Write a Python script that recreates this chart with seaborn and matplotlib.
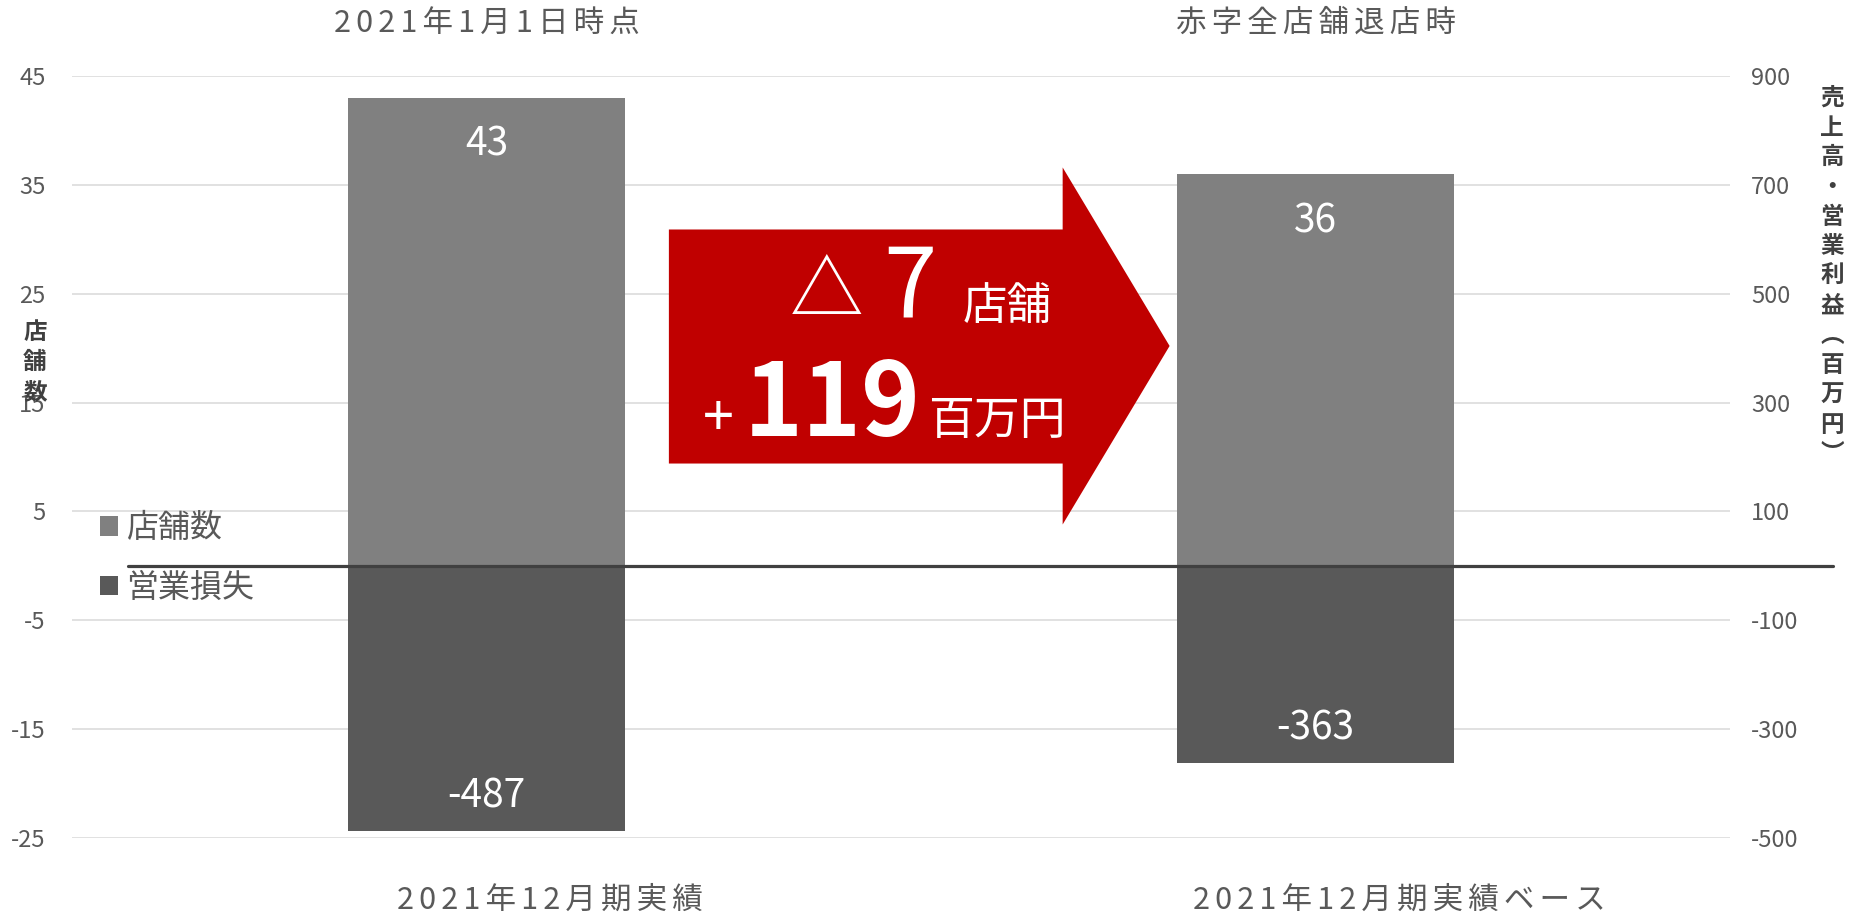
import matplotlib
matplotlib.use("Agg")
import matplotlib.pyplot as plt
import matplotlib.transforms as mtransforms
from matplotlib.patches import Polygon, Patch
import seaborn as sns
import pandas as pd

# ---------------- data ----------------
categories = ["2021年12月期実績", "2021年12月期実績ベース"]
top_titles = ["2021年1月1日時点", "赤字全店舗退店時"]
store_counts = [43, 36]
operating_loss = [-487, -363]
series_names = ["店舗数", "営業損失"]
left_ticks = [-25, -15, -5, 5, 15, 25, 35, 45]
right_ticks = [-500, -300, -100, 100, 300, 500, 700, 900]
left_label = "店舗数"
right_label = "売上高・営業利益︵百万円︶"
store_change_text = "7"
profit_change_text = "119"

# ---------------- style ----------------
sns.set_style("white")
plt.rcParams['font.family'] = ['Noto Sans CJK JP', 'DejaVu Sans']
plt.rcParams['axes.unicode_minus'] = False

C_STORE = "#808080"
C_LOSS = "#595959"
C_TEXT = "#595959"
C_GRID = "#D9D9D9"
C_RED = "#C00000"


def spaced(s):
    # small letter spacing, as in the original text boxes
    return "\u2006".join(s)


W, H = 1863, 915
fig = plt.figure(figsize=(W / 100, H / 100), dpi=100)
ax_left, ax_right, ax_top, ax_bot = 72, 1730, 76, 838
ax = fig.add_axes([ax_left / W, 1 - ax_bot / H, (ax_right - ax_left) / W, (ax_bot - ax_top) / H])
ax2 = ax.twinx()

df = pd.DataFrame({"cat": categories, "stores": store_counts, "loss": operating_loss})
sns.barplot(data=df, x="cat", y="stores", ax=ax, color=C_STORE, width=0.333,
            saturation=1, zorder=2, edgecolor="none")
sns.barplot(data=df, x="cat", y="loss", ax=ax2, color=C_LOSS, width=0.333,
            saturation=1, zorder=2, edgecolor="none")

for a in (ax, ax2):
    a.set_xlim(-0.5, 1.5)
    a.set_xlabel("")
    a.set_ylabel("")
    a.tick_params(axis="x", length=0, labelbottom=False)
    for s in a.spines.values():
        s.set_visible(False)

ax.set_ylim(-25, 45)
ax.set_yticks(left_ticks)
ax.tick_params(axis="y", length=0, pad=19, labelsize=17, labelcolor=C_TEXT)
ax.grid(axis="y", color=C_GRID, lw=1.1)
ax.grid(axis="x", visible=False)
ax.set_axisbelow(True)

ax2.set_ylim(-500, 900)
ax2.set_yticks(right_ticks)
ax2.tick_params(axis="y", length=0, pad=15, labelsize=17, labelcolor=C_TEXT)
ax2.grid(False)

# zero line extending past the plot
ax2.axhline(0, xmin=(128 - ax_left) / (ax_right - ax_left),
            xmax=(1833 - ax_left) / (ax_right - ax_left),
            color="#404040", lw=2.3, clip_on=False, zorder=6)

# bar value labels
for i, v in enumerate(store_counts):
    ax.annotate(f"{v}", xy=(i, v), xytext=(0, -34), textcoords="offset points",
                ha="center", va="center", color="white", fontsize=28, zorder=7)
for i, v in enumerate(operating_loss):
    ax2.annotate(f"{v}", xy=(i, v), xytext=(0, 25), textcoords="offset points",
                 ha="center", va="center", color="white", fontsize=28, zorder=7)

# axis titles (stacked vertical)
ax.set_ylabel("\n".join(left_label), rotation=0, fontsize=17, fontweight="bold",
              color="#404040", linespacing=1.3, ha="center", va="center")
ax.yaxis.set_label_coords((35 - ax_left) / (ax_right - ax_left), (ax_bot - 362) / (ax_bot - ax_top))
ax2.set_ylabel("\n".join(right_label), rotation=0, fontsize=17, fontweight="bold",
               color="#404040", linespacing=1.3, ha="center", va="center")
ax2.yaxis.set_label_coords((1832 - ax_left) / (ax_right - ax_left), (ax_bot - 276) / (ax_bot - ax_top))

# top titles and bottom category labels
tr = mtransforms.blended_transform_factory(ax.transData, fig.transFigure)
for i, t in enumerate(top_titles):
    ax.text(i, 1 - 23 / H, spaced(t), transform=tr, ha="center", va="center",
            fontsize=22, color=C_TEXT)
bottom_shift = [0.076, 0.101]
for i, t in enumerate(categories):
    ax.text(i + bottom_shift[i], 1 - 900 / H, spaced(t), transform=tr, ha="center", va="center",
            fontsize=22, color=C_TEXT)

# red arrow callout
arrow_pts = [(0.220, 9.4), (0.220, 30.9), (0.695, 30.9), (0.695, 36.6),
             (0.824, 20.2), (0.695, 3.8), (0.695, 9.4)]
ax.add_patch(Polygon(arrow_pts, closed=True, facecolor=C_RED, edgecolor="none", zorder=3))
ax.text(0.410, 23.0, "△", ha="center", va="baseline", fontsize=53, color="white", zorder=4)
ax.text(0.511, 22.8, store_change_text, ha="center", va="baseline", fontsize=69, color="white", zorder=4)
ax.text(0.628, 22.7, "店舗", ha="center", va="baseline", fontsize=32, color="white", zorder=4)
ax.text(0.280, 12.0, "+", ha="center", va="baseline", fontsize=40, color="white", zorder=4)
ax.text(0.417, 11.9, profit_change_text, ha="center", va="baseline", fontsize=72,
        fontweight="bold", color="white", zorder=4)
ax.text(0.616, 12.1, "百万円", ha="center", va="baseline", fontsize=33, color="white", zorder=4)

# legend
handles = [Patch(facecolor=C_STORE, edgecolor="none"), Patch(facecolor=C_LOSS, edgecolor="none")]
fig.legend(handles, series_names, loc="center left", bbox_to_anchor=(100 / W, 1 - 558 / H),
           frameon=False, fontsize=23, handlelength=0.56, handleheight=0.56,
           handletextpad=0.25, labelspacing=0.85, borderaxespad=0, borderpad=0,
           labelcolor=C_TEXT)

fig.savefig("out.png", dpi=100)
